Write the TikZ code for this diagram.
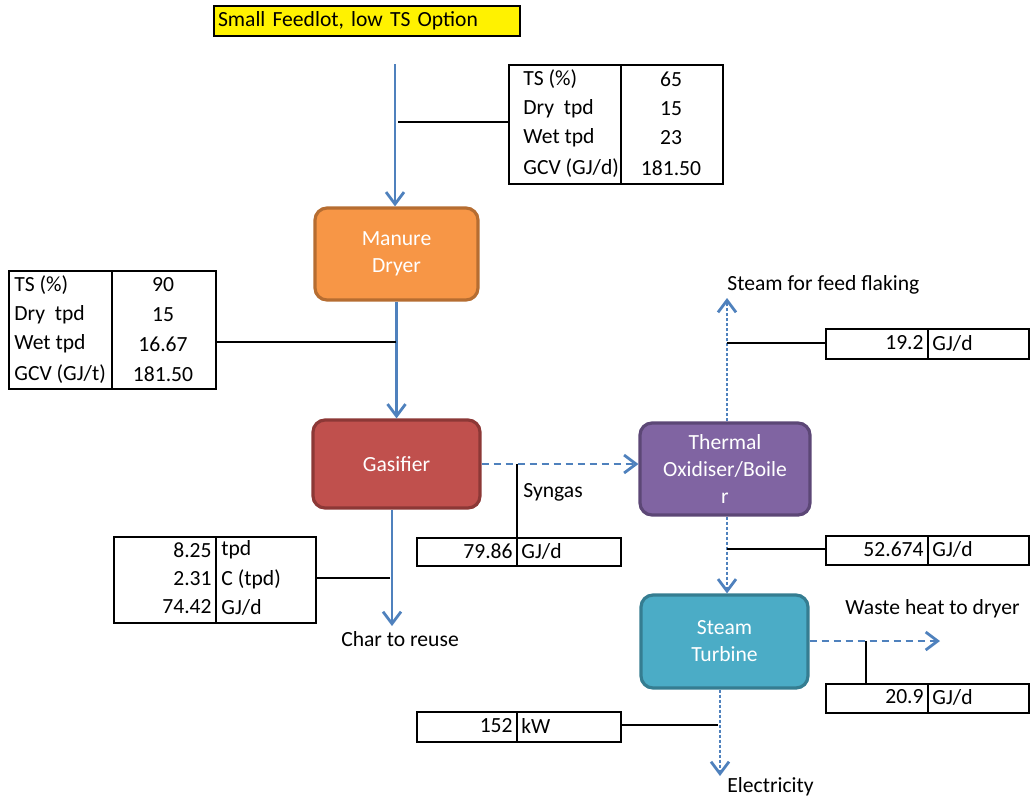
\documentclass[tikz,border=0pt]{standalone}
\usepackage{fontspec}
\setmainfont{Carlito}
\usepackage{tikz}
\usetikzlibrary{arrows.meta,positioning}
\definecolor{flowblue}{HTML}{4F81BD}
\definecolor{dryerfill}{HTML}{F79646}
\definecolor{dryerline}{HTML}{B66D31}
\definecolor{gasfill}{HTML}{C0504D}
\definecolor{gasline}{HTML}{8C3836}
\definecolor{oxfill}{HTML}{8064A2}
\definecolor{oxline}{HTML}{5C4776}
\definecolor{turbfill}{HTML}{4BACC6}
\definecolor{turbline}{HTML}{357D91}

\begin{document}
\begin{tikzpicture}[x=.5pt,y=-.5pt,
  every node/.style={font=\fontsize{10.8}{13.5}\selectfont,inner sep=1pt},
  unit/.style={draw,rounded corners=6pt,line width=1.6pt,text=white,
    align=center,inner sep=0pt},
  flow/.style={draw=flowblue,line width=1.4pt,
    -{Straight Barb[length=6pt,width=9pt,line width=1.4pt]}},
  longdash/.style={dash pattern=on 3.5pt off 2.5pt},
  shortdash/.style={dash pattern=on 1.5pt off 1pt},
  tap/.style={line width=1pt},
  cell/.style={draw,line width=1pt,inner sep=0pt,anchor=north west}]

\useasboundingbox (0,0) rectangle (1032,800);

% title
\node[draw,line width=1pt,fill=yellow,anchor=north west,
  text width=149pt,inner sep=2pt,minimum height=15pt,align=left]
  (title) at (213,5) {Small Feedlot, low TS Option};

% process units
\node[unit,fill=dryerfill,draw=dryerline,
  minimum width=81.5pt,minimum height=46pt]
  (dryer) at (396.5,254) {Manure\\Dryer};
\node[unit,fill=gasfill,draw=gasline,
  minimum width=83.5pt,minimum height=44pt]
  (gasifier) at (396.5,464) {Gasifier};
\node[unit,fill=oxfill,draw=oxline,
  minimum width=85pt,minimum height=46pt]
  (oxidiser) at (725,469) {Thermal\\Oxidiser/Boile\\r};
\node[unit,fill=turbfill,draw=turbline,
  minimum width=83.5pt,minimum height=46.5pt]
  (turbine) at (724.5,641.5) {Steam\\Turbine};

% feed table
\node[cell,minimum width=107pt,minimum height=59.5pt] (feedtab) at (508,64) {};
\draw[tap] (621,64) -- (621,183);
\node[anchor=west] (feedts) at (521,79) {TS (\%)};
\node[anchor=west] (feeddry) at (521,109) {Dry\ \ tpd};
\node[anchor=west] (feedwet) at (521,138) {Wet tpd};
\node[anchor=west] (feedgcv) at (521,168) {GCV (GJ/d)};
\node (feedtsv) at (671,79) {65};
\node (feeddryv) at (671,109) {15};
\node (feedwetv) at (671,138) {23};
\node (feedgcvv) at (671,168) {181.50};

% dried manure table
\node[cell,minimum width=103.5pt,minimum height=59pt] (drytab) at (8,270) {};
\draw[tap] (112,270) -- (112,388);
\node[anchor=west] (dryts) at (12,285) {TS (\%)};
\node[anchor=west] (drydry) at (12,315) {Dry\ \ tpd};
\node[anchor=west] (drywet) at (12,344) {Wet tpd};
\node[anchor=west] (drygcv) at (12,374) {GCV (GJ/t)};
\node (drytsv) at (163,285) {90};
\node (drydryv) at (163,315) {15};
\node (drywetv) at (163,344) {16.67};
\node (drygcvv) at (163,374) {181.50};

% char table
\node[cell,minimum width=101pt,minimum height=43pt] (chartab) at (113,536) {};
\draw[tap] (216,536) -- (216,622);
\node[anchor=east] (charmass) at (214,550) {8.25};
\node[anchor=east] (charc) at (214,579) {2.31};
\node[anchor=east] (charen) at (214,607) {74.42};
\node[anchor=west] (charmassu) at (219,550) {tpd};
\node[anchor=west] (charcu) at (219,579) {C (tpd)};
\node[anchor=west] (charenu) at (219,607) {GJ/d};

% syngas table
\node[cell,minimum width=102pt,minimum height=14pt] (syntab) at (416,537) {};
\draw[tap] (517,537) -- (517,565);
\node[anchor=east] (synval) at (515,551) {79.86};
\node[anchor=west] (synunit) at (519,551) {GJ/d};

% steam table
\node[cell,minimum width=101.5pt,minimum height=15pt] (steamtab) at (825,328) {};
\draw[tap] (928,328) -- (928,358);
\node[anchor=east] (steamval) at (926,343) {19.2};
\node[anchor=west] (steamunit) at (930,343) {GJ/d};

% boiler to turbine table
\node[cell,minimum width=101.5pt,minimum height=14.5pt] (hptab) at (825,535) {};
\draw[tap] (928,535) -- (928,564);
\node[anchor=east] (hpval) at (926,549) {52.674};
\node[anchor=west] (hpunit) at (930,549) {GJ/d};

% waste heat table
\node[cell,minimum width=101.5pt,minimum height=14.5pt] (wastetab) at (825,683) {};
\draw[tap] (928,683) -- (928,712);
\node[anchor=east] (wasteval) at (926,697) {20.9};
\node[anchor=west] (wasteunit) at (930,697) {GJ/d};

% power table
\node[cell,minimum width=102pt,minimum height=15pt] (powtab) at (416,711) {};
\draw[tap] (517,711) -- (517,741);
\node[anchor=east] (powval) at (515,726) {152};
\node[anchor=west] (powunit) at (519,726) {kW};

% free ends and labels
\coordinate (feedin) at (395,64);
\coordinate (steamout) at (727,298);
\coordinate (wasteout) at (940,641);
\coordinate (elecout) at (720,776);
\coordinate (charout) at (392,626);
\node[anchor=west] (steamlbl) at (725,285) {Steam for feed flaking};
\node[anchor=west] (wastelbl) at (843,609) {Waste heat to dryer};
\node[anchor=west] (eleclbl) at (725,787) {Electricity};
\node (charlbl) at (400,639) {Char to reuse};
\node[anchor=north west] (synlbl) at (521,481) {Syngas};

% flows
\draw[flow] (feedin) -- (feedin |- dryer.north);
\draw[flow] (dryer.south) -- (gasifier.north);
\draw[flow] (gasifier.south -| charout) -- (charout);
\draw[flow,longdash] (gasifier.east) -- (gasifier.east -| oxidiser.west);
\draw[flow,shortdash] (oxidiser.north -| steamout) -- (steamout);
\draw[flow,shortdash] (oxidiser.south -| steamout) -- (steamout |- turbine.north);
\draw[flow,longdash] (turbine.east |- wasteout) -- (wasteout);
\draw[flow,shortdash] (turbine.south -| elecout) -- (elecout);

% taps to tables
\coordinate (feedtap) at (398,122);
\coordinate (drytap) at (396,342);
\coordinate (chartap) at (390,578);
\coordinate (syntap) at (517,464);
\coordinate (steamtap) at (727,343);
\coordinate (hptap) at (727,549);
\coordinate (wastetap) at (866,641);
\coordinate (powtap) at (718,725);
\draw[tap] (feedtap) -- (feedtap -| feedtab.west);
\draw[tap] (drytap) -- (drytap -| drytab.east);
\draw[tap] (chartap) -- (chartap -| chartab.east);
\draw[tap] (syntap) -- (syntap |- syntab.north);
\draw[tap] (steamtap) -- (steamtap -| steamtab.west);
\draw[tap] (hptap) -- (hptap -| hptab.west);
\draw[tap] (wastetap) -- (wastetap |- wastetab.north);
\draw[tap] (powtap) -- (powtap -| powtab.east);
\end{tikzpicture}
\end{document}
